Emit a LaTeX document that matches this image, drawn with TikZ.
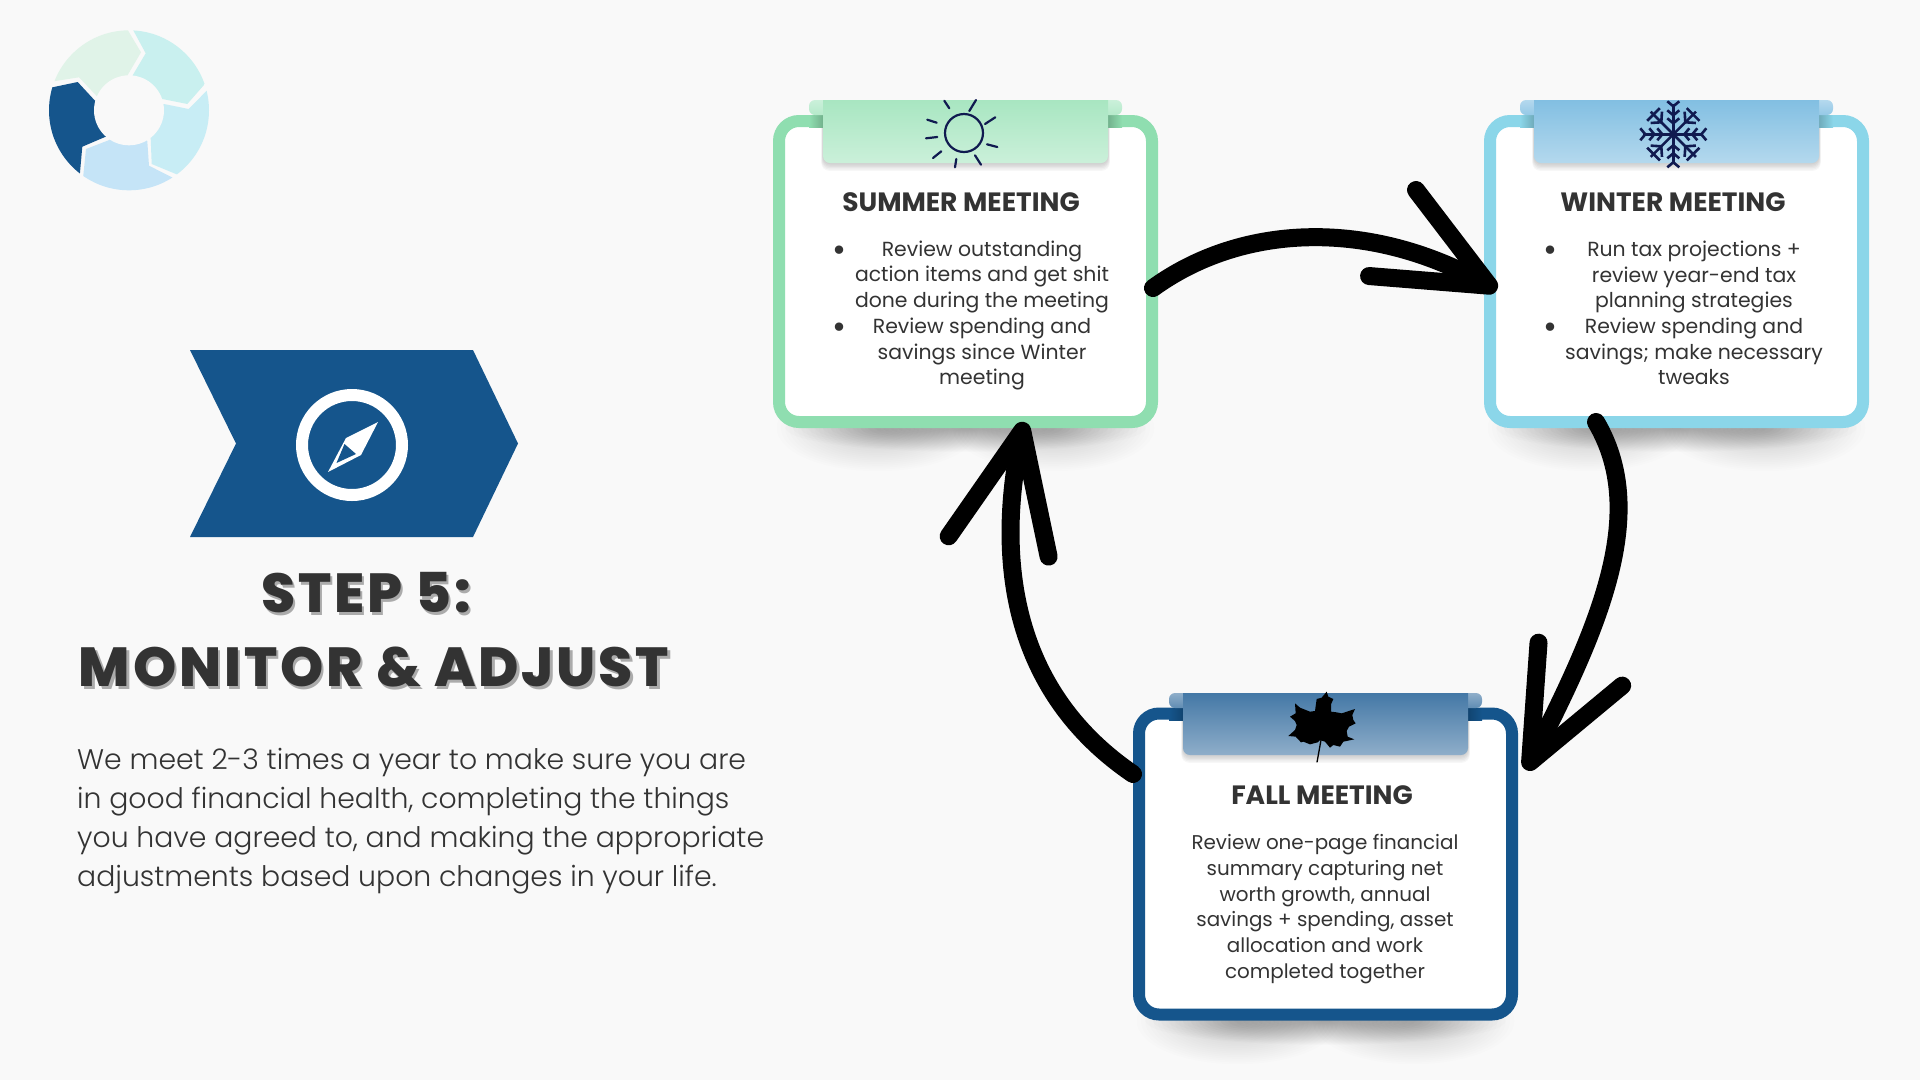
\documentclass[tikz,border=0pt]{standalone}
\usepackage{fontspec}
\setmainfont{Poppins}
\newfontfamily\lightf{Poppins Light}
\newfontfamily\heavyf[LetterSpace=5.2]{Poppins ExtraBold}
\usetikzlibrary{arrows.meta,calc,shapes.geometric}
\definecolor{pagebg}{HTML}{F9F9F9}
\definecolor{navy}{HTML}{15558C}
\definecolor{inkdark}{HTML}{333333}
\definecolor{icon}{HTML}{101A50}
\definecolor{greenb}{HTML}{8FDEB0}
\definecolor{skyb}{HTML}{8BD6E9}
\definecolor{gtop}{HTML}{A8E6C1}\definecolor{gbot}{HTML}{BEEDD2}
\definecolor{btop}{HTML}{82BFE2}\definecolor{bbot}{HTML}{A5D0EA}
\definecolor{ntop}{HTML}{4478A6}\definecolor{nbot}{HTML}{7097BC}
\tikzset{
  card/.style={draw=#1,fill=white,line width=12pt,rounded corners=20pt,minimum width=373pt,minimum height=301pt,inner sep=0pt},
  cardtitle/.style={font=\fontsize{26.5}{30}\selectfont\bfseries,text=inkdark,inner sep=0pt},
  cardbody/.style={font=\fontsize{20.4}{25.7}\selectfont,text=inkdark,align=center,inner sep=0pt},
  bulletmark/.style={font=\fontsize{34}{36}\selectfont,text=inkdark,inner sep=0pt},
  flow/.style={draw=black,line width=18pt,line cap=round},
  headtip/.style 2 args={-{Straight Barb[length=#1,width=#2,round]}},
}
% soft shadow below a card: two corner blobs and a flat middle one
\newcommand\cardshadow[3]{%
  \foreach \k in {1,...,24}{
    \fill[black,fill opacity=.0085] (#1-88,#3) ellipse[x radius={\k*4.2},y radius={\k*1.8}];
    \fill[black,fill opacity=.0085] (#1+88,#3) ellipse[x radius={\k*4.2},y radius={\k*1.8}];
    \fill[black,fill opacity=.011] (#1,#3) ellipse[x radius={\k*7.5},y radius={\k*1}];
  }%
}
% folded band over the top of a card
\newcommand\tapeband[5]{%
  \begin{scope}[shift={(#1,#2)}]
    \foreach \k in {1,...,6}{
      \fill[black,fill opacity=.03,rounded corners=8pt] (14-\k*.3,20) rectangle (299+\k*.3,#3+\k*1.3);
    }
    \shade[left color=#5,right color=#5!80!black] (0,15) rectangle (14,27);
    \shade[right color=#5,left color=#5!80!black] (299,15) rectangle (313,27);
    \shade[top color=#4!60!white,bottom color=#4!85!white,rounded corners=6pt] (0,15)--(0,0)--(20,0)--(20,15)--cycle;
    \shade[top color=#4!60!white,bottom color=#4!85!white,rounded corners=6pt] (293,15)--(293,0)--(313,0)--(313,15)--cycle;
    \shade[top color=#4,bottom color=#4!60!white] (14,0) [rounded corners=7pt]--(14,#3)--(299,#3)[sharp corners]--(299,0)--cycle;
  \end{scope}%
}
\begin{document}
\begin{tikzpicture}[x=1pt,y=-1pt]
\useasboundingbox (0,0) rectangle (1920,1080);
\fill[pagebg] (0,0) rectangle (1920,1080);

% ---- progress ring
\begin{scope}
  \clip (129,110.3) circle[radius=80];
  \fill[color={rgb,255:red,224;green,243;blue,232}] (30,85)--(79,77.3)--(96.7,96)--(129,110)--(127.7,75)--(141,52.3)--(120,17)--(30,0)--cycle;
  \fill[color={rgb,255:red,201;green,240;blue,239}] (145.7,53.3)--(125,15)--(230,15)--(225,61)--(187.3,104)--(162.3,99)--(129,110)--(132.7,75.3)--cycle;
  \fill[color={rgb,255:red,200;green,237;blue,245}] (129,110)--(164,104)--(188.7,109)--(230,67)--(240,190)--(205,186)--(151.7,164)--(150.7,138.3)--cycle;
  \fill[color={rgb,255:red,197;green,228;blue,247}] (129,110)--(147.3,141.3)--(149,165.7)--(195,189)--(190,215)--(81,215)--(81,198)--(86,149)--(109.3,140)--cycle;
  \fill[navy] (129,110)--(95,100.7)--(77.7,82)--(30,92)--(20,195)--(78,195)--(82.3,146.7)--(105.7,136.7)--cycle;
\end{scope}
\fill[pagebg] (129,110.3) circle[radius=35];

% ---- chevron with compass
\fill[navy] (190,350)--(473,350)--(518,443.5)--(473,537)--(190,537)--(236,443.5)--cycle;
\draw[white,line width=12pt] (352,445) circle[radius=50];
\fill[white] (378,422)--(346,438)--(328,472)--(361,455)--cycle;
\fill[navy] (344.5,444)--(356,454)--(336.5,463)--cycle;

% ---- left texts
\node[anchor=base,font=\fontsize{55}{60}\selectfont\heavyf,text=black!33,inner sep=0pt] (s1s) at (368.5,615) {STEP 5:};
\node[anchor=base,font=\fontsize{55}{60}\selectfont\heavyf,text=inkdark,inner sep=0pt] (s1) at (366,612) {STEP 5:};
\node[anchor=base,font=\fontsize{55}{60}\selectfont\heavyf,text=black!33,inner sep=0pt] (s2s) at (376.5,689) {MONITOR \& ADJUST};
\node[anchor=base,font=\fontsize{55}{60}\selectfont\heavyf,text=inkdark,inner sep=0pt] (s2) at (374,686) {MONITOR \& ADJUST};
\node[anchor=west,font=\fontsize{28.3}{39}\selectfont\lightf,text=inkdark,align=left,inner sep=0pt] (para) at (77,821) {We meet 2-3 times a year to make sure you are\\in good financial health, completing the things\\you have agreed to, and making the appropriate\\adjustments based upon changes in your life.};

% ---- shadows
\cardshadow{965.5}{0}{428}
\cardshadow{1676.5}{0}{428}
\cardshadow{1325.5}{0}{1021}

% ---- cards
\node[card=greenb] (summer) at (965.5,271.5) {};
\node[card=skyb] (winter) at (1676.5,271.5) {};
\node[card=navy] (fall) at (1325.5,864) {};

\tapeband{809}{100}{63}{gtop}{greenb}
\tapeband{1520}{100}{63}{btop}{skyb}
\tapeband{1169}{693}{62}{ntop}{navy}

% ---- sun
\begin{scope}[draw=icon,line width=2.2pt,line cap=round]
  \draw (964,133) circle[radius=19];
  \foreach \a/\b/\c/\d in {944.3/100.7/949.3/108.3,976/100/969.3/111,995.3/117.3/985/124,997.3/147/987/144.3,981/164.7/975/155.3,955/167.3/956.3/159,933/158/941.3/151.3,926/138.3/937.3/137,927.3/119.7/936.7/122.7}
    \draw (\a,\b)--(\c,\d);
\end{scope}

% ---- snowflake
\begin{scope}[shift={(1673.3,134.3)},draw=icon,line width=2.6pt]
  \foreach \r in {0,90,180,270}{
    \begin{scope}[rotate=\r]
      \draw (0,0)--(30,0);
      \draw (33,-6)--(28,0)--(33,6);
      \draw (24,-6)--(19,0)--(24,6);
      \draw (16,-6)--(11,0)--(16,6);
    \end{scope}
    \begin{scope}[rotate=\r+45]
      \draw (0,0)--(32,0);
      \draw (28,-9)--(28,9);
      \draw (24,-8)--(17,0)--(24,8);
    \end{scope}
  }
\end{scope}

% ---- leaf
\begin{scope}[shift={(1275,685)},x=0.3333pt,y=-0.3333pt]
  \fill[black] (155,20)--(160,35)--(175,42)--(168,58)--(168,80)--(185,82)--(200,85)--(240,72)--(232,90)--(235,105)--(242,115)--(222,125)--(215,138)--(218,155)--(238,163)--(205,170)--(195,185)--(175,180)--(165,188)--(150,170)--(135,165)--(128,172)--(105,178)--(85,170)--(78,172)--(62,155)--(40,153)--(60,135)--(65,120)--(60,108)--(45,95)--(62,85)--(60,55)--(75,68)--(105,80)--(120,78)--(125,42)--(140,38)--cycle;
  \fill[black] (136,165)--(140,165)--(128,232)--(124,232)--cycle;
\end{scope}

% ---- card texts
\node[cardtitle] (t1) at (961,202) {SUMMER MEETING};
\node[bulletmark] (b1a) at (839,253.5) {•};
\node[bulletmark] (b1b) at (839,330.5) {•};
\node[cardbody] (d1) at (982,315.5) {Review outstanding\\action items and get shit\\done during the meeting\\Review spending and\\savings since Winter\\meeting};

\node[cardtitle] (t2) at (1673,202) {WINTER MEETING};
\node[bulletmark] (b2a) at (1550,253.5) {•};
\node[bulletmark] (b2b) at (1550,330.5) {•};
\node[cardbody] (d2) at (1694,313) {Run tax projections +\\review year-end tax\\planning strategies\\Review spending and\\savings; make necessary\\tweaks};

\node[cardtitle] (t3) at (1322,795) {FALL MEETING};
\node[cardbody,font=\fontsize{19.9}{25.7}\selectfont] (d3) at (1325,909) {Review one-page financial\\summary capturing net\\worth growth, annual\\savings + spending, asset\\allocation and work\\completed together};

% ---- connectors
\coordinate (a1s) at ($(summer.east)+(-5,16.5)$);
\coordinate (a1e) at ($(winter.west)+(13,18.5)$);
\coordinate (a2s) at ($(winter.south)+(-80.5,-6)$);
\coordinate (a2e) at ($(fall.east)+(8,-94)$);
\coordinate (a3s) at ($(fall.west)+(0,-90)$);
\coordinate (a3e) at ($(summer.south)+(58.5,-6)$);
\draw[flow,headtip={110pt}{98pt}] (a1s) .. controls (1240,225) and (1365,218) .. (a1e);
\draw[flow,headtip={110pt}{94pt}] (a2s) .. controls (1648,510) and (1603,620) .. (a2e);
\draw[flow,headtip={118pt}{102pt}] (a3s) .. controls (995,680) and (1002,530) .. (a3e);
\end{tikzpicture}
\end{document}
